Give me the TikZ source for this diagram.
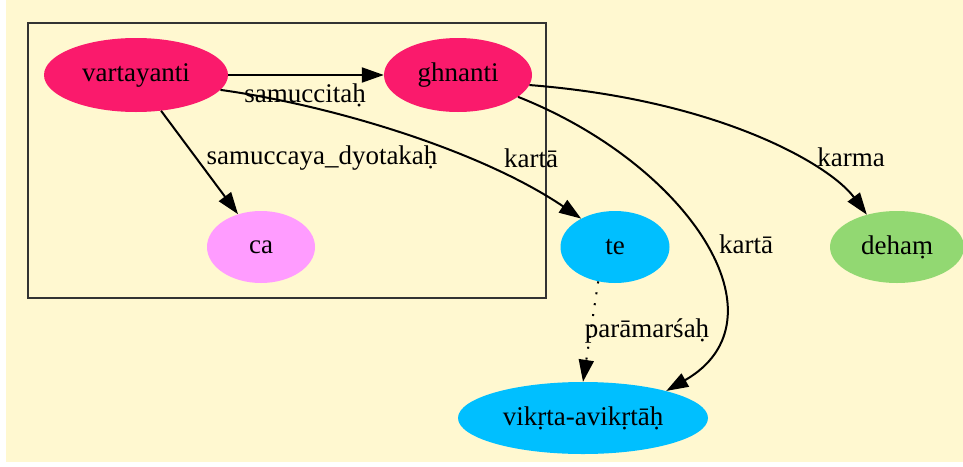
\documentclass[tikz,border=0pt]{standalone}
\usepackage{fontspec}
\setmainfont{Liberation Serif}
\usetikzlibrary{shapes.geometric,arrows.meta}
\definecolor{bgc}{HTML}{FFF8D0}
\definecolor{pinkc}{HTML}{FA1A6C}
\definecolor{plumc}{HTML}{FF9CFF}
\definecolor{skyc}{HTML}{00BFFF}
\definecolor{greenc}{HTML}{92D872}
\definecolor{framec}{HTML}{333333}
\begin{document}
\begin{tikzpicture}[x=1pt,y=-1pt,
  font=\fontsize{27}{31}\selectfont,
  gnode/.style={ellipse, inner sep=0pt, draw=none},
  edgearrow/.style={-{Triangle[length=22pt,width=15pt]}, line width=2pt, black},
  elabel/.style={inner sep=0pt, text=black}]
\useasboundingbox (0,0) rectangle (963,466);
\fill[white] (0,0) rectangle (963,466);
\fill[bgc] (6,0) rectangle (963,462);
\draw[framec, line width=2.2pt] (28,23) rectangle (546,298);

\node[gnode, fill=pinkc, minimum width=184pt, minimum height=74pt] (v) at (136,75) {vartayanti};
\node[gnode, fill=pinkc, minimum width=148pt, minimum height=74pt] (g) at (458,75) {ghnanti};
\node[gnode, fill=plumc, minimum width=108pt, minimum height=72pt] (ca) at (261,247) {ca};
\node[gnode, fill=skyc, minimum width=109pt, minimum height=72pt] (te) at (615,247) {te};
\node[gnode, fill=greenc, minimum width=134pt, minimum height=72pt] (d) at (897,247) {dehaṃ};
\node[gnode, fill=skyc, minimum width=250pt, minimum height=72pt] (vk) at (583,418) {vikṛta-avikṛtāḥ};

\draw[edgearrow] (v.east) -- (g.west);
\node[elabel] (l1) at (305,95) {samuccitaḥ};
\draw[edgearrow] (v.-55) -- (ca.125);
\node[elabel] (l2) at (322,158) {samuccaya\_dyotakaḥ};
\draw[edgearrow] (v.-10) .. controls (330,105) and (480,150) .. (te.140);
\node[elabel] (l3) at (531,158) {kartā};
\draw[edgearrow] (g.-8) .. controls (720,100) and (830,165) .. (d.133);
\node[elabel] (l4) at (851,157) {karma};
\draw[edgearrow] (g.-20) .. controls (690,165) and (790,320) .. (vk.18);
\node[elabel] (l5) at (746,244) {kartā};
\draw[edgearrow, dash pattern=on 2pt off 9pt] (te.244) -- (vk.north);
\node[elabel] (l6) at (647,331) {parāmarśaḥ};
\end{tikzpicture}
\end{document}
